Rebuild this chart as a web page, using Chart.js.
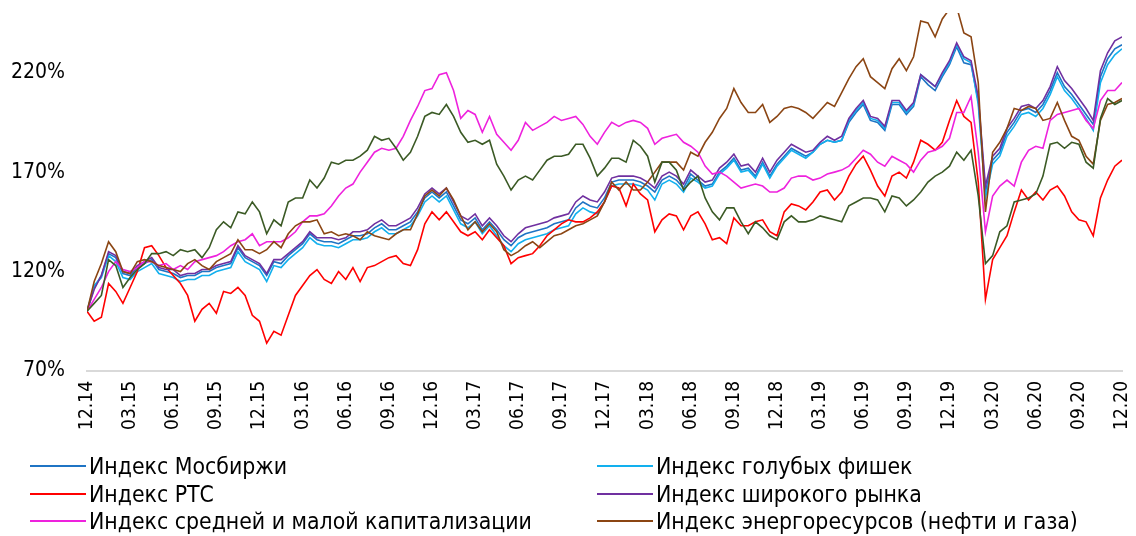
<!DOCTYPE html>
<html>
<head>
<meta charset="utf-8">
<script src="https://cdn.jsdelivr.net/npm/chart.js@4.4.1/dist/chart.umd.min.js"></script>
<style>
  html, body { margin: 0; padding: 0; background: #ffffff; }
  #wrap { position: relative; width: 1136px; height: 536px; overflow: hidden; }
  #c { position: absolute; left: 0; top: 0; }
  .leg { position: absolute; display: flex; align-items: center; white-space: nowrap;
         font-family: "DejaVu Sans Condensed", "DejaVu Sans", sans-serif; font-size: 22.8px; color: #000; line-height: 1; }
  .leg .ln { display: inline-block; width: 56px; height: 2px; margin-right: 3px; }
</style>
</head>
<body>
<div id="wrap">
  <canvas id="c" width="1136" height="536"></canvas>
  <div id="legend"></div>
</div>
<script>
// ---- tick labels ----
const xTickLabels = ['12.14','03.15','06.15','09.15','12.15','03.16','06.16','09.16','12.16',
  '03.17','06.17','09.17','12.17','03.18','06.18','09.18','12.18','03.19','06.19','09.19',
  '12.19','03.20','06.20','09.20','12.20'];
const yTickValues = [70, 120, 170, 220];
const monthsPerPoint = 0.5;   // data sampled every half month from 12.14
const monthsPerTick = 3;

// ---- series (% of level at 12.14) ----
const moex = [
  100,112,118,129,127,119,118,122,124,126,
  121,120,119,117,118,118,120,120,122,123,
  124,132,127,125,123,118,125,124,128,131,
  134,139,136,135,135,134,136,138,138,139,
  142,144,141,141,143,145,150,157,160,157,
  160,153,146,144,147,141,145,141,136,133,
  137,139,140,141,142,144,145,146,152,155,
  153,152,157,165,166,166,166,165,163,160,
  166,168,166,162,169,166,163,164,170,173,
  177,171,172,168,175,168,174,178,182,180,
  178,180,184,186,185,186,195,200,204,196,
  195,191,204,204,199,203,218,214,211,218,
  224,233,225,224,206,160,176,180,190,195,
  201,202,200,204,211,220,213,209,204,199,
  194,218,227,232,234];
const blueChips = [
  100,113,117,128,125,117,116,120,122,124,
  119,118,117,115,116,116,118,118,120,121,
  122,130,125,123,121,115,123,122,126,129,
  132,137,134,133,133,132,134,136,136,137,
  140,142,139,139,141,143,148,155,158,155,
  158,151,144,142,145,139,143,138,133,130,
  134,136,137,138,139,141,142,143,149,152,
  150,149,155,163,164,164,164,163,161,156,
  164,166,164,160,167,165,162,163,169,172,
  176,170,171,167,174,167,173,177,181,179,
  177,180,184,186,185,186,196,201,205,197,
  196,192,205,205,200,204,219,216,213,219,
  225,234,227,225,204,157,174,178,188,193,
  199,200,198,202,209,218,211,207,202,197,
  191,215,224,229,232];
const rts = [
  100,95,97,114,110,104,112,120,132,133,
  128,122,118,114,108,95,101,104,99,110,
  109,112,108,98,95,84,90,88,98,108,
  113,118,121,116,114,120,116,122,115,122,
  123,125,127,128,124,123,131,144,150,146,
  150,145,140,138,140,136,141,137,133,124,
  127,128,129,133,138,141,144,146,145,145,
  147,150,155,163,162,153,164,159,156,140,
  146,149,148,141,148,150,144,136,137,134,
  147,143,143,145,146,140,138,150,154,153,
  151,155,160,161,156,160,168,174,178,171,
  163,158,168,170,167,175,186,184,181,185,
  196,206,198,195,165,106,126,132,138,150,
  161,156,160,156,161,163,158,150,146,145,
  138,157,166,173,176];
const broadMarket = [
  100,111,118,130,128,120,119,123,125,127,
  122,121,121,118,119,119,121,121,123,124,
  125,133,128,126,124,119,126,126,129,132,
  135,140,137,137,137,136,137,140,140,141,
  144,146,143,143,145,147,152,159,162,159,
  162,155,148,146,149,143,147,143,138,135,
  139,142,143,144,145,147,148,149,155,158,
  156,155,160,167,168,168,168,167,165,162,
  168,170,168,164,171,168,165,166,172,175,
  179,173,174,170,177,170,176,180,184,182,
  180,181,185,188,186,188,197,202,206,198,
  197,193,206,206,201,205,219,216,213,220,
  226,235,228,226,208,163,178,182,192,197,
  203,204,202,206,213,223,216,212,207,202,
  196,221,230,236,238];
const smallMidCap = [
  100,106,112,120,125,121,120,122,125,125,
  123,124,121,123,121,125,126,127,128,130,
  133,135,136,139,133,135,135,135,137,140,
  145,148,148,149,153,158,162,164,170,175,
  180,182,181,182,188,196,203,211,212,219,
  220,211,197,201,199,190,198,189,185,181,
  186,195,191,193,195,198,196,197,198,194,
  188,184,190,195,193,195,196,195,192,184,
  187,188,189,185,183,180,173,169,170,168,
  165,162,163,164,163,160,160,162,167,168,
  168,166,167,169,170,171,173,177,181,179,
  175,173,178,176,174,170,176,180,181,183,
  187,200,200,208,180,140,158,163,166,163,
  175,181,183,182,196,199,200,201,202,196,
  192,206,211,211,215];
const oilGas = [
  100,115,124,135,130,120,119,125,126,125,
  123,122,121,120,124,126,123,121,125,127,
  129,136,131,131,129,131,135,132,139,143,
  145,145,146,139,140,138,139,138,136,140,
  138,137,136,139,141,141,149,158,161,158,
  162,156,148,141,145,140,144,140,131,128,
  130,133,135,132,135,138,139,141,143,144,
  146,148,155,165,161,165,161,161,165,170,
  175,175,175,171,180,178,185,190,197,202,
  212,205,200,200,204,195,198,202,203,202,
  200,197,201,205,203,210,217,223,227,218,
  215,212,222,227,221,228,246,245,238,247,
  252,253,240,238,215,150,180,185,192,202,
  201,203,202,196,197,205,196,188,186,178,
  174,196,204,205,207];
const seventhIndex = [
  100,104,108,126,123,112,117,121,124,129,
  129,130,128,131,130,131,127,132,141,145,
  142,150,149,155,150,139,146,143,155,157,
  157,166,162,167,175,174,176,176,178,181,
  188,186,187,182,176,180,188,198,200,199,
  204,198,190,185,186,184,186,174,168,161,
  166,168,166,171,176,178,178,179,184,184,
  177,168,172,177,177,175,186,183,178,165,
  175,175,171,161,165,168,157,150,146,152,
  152,145,139,145,142,138,136,145,148,145,
  145,146,148,147,146,145,153,155,157,157,
  156,150,158,157,153,156,160,165,168,170,
  173,180,176,181,158,124,128,140,143,155,
  156,157,159,168,184,185,182,185,184,175,
  172,197,207,204,206];

const seriesNames = ['Индекс Мосбиржи','Индекс голубых фишек','Индекс РТС','Индекс широкого рынка',
  'Индекс средней и малой капитализации','Индекс энергоресурсов (нефти и газа)',''];
const seriesData = [moex, blueChips, rts, broadMarket, smallMidCap, oilGas, seventhIndex];
const seriesColors = ['#1f74c4','#12b0ee','#ff0000','#7030a0','#ee22dd','#8b4513','#3b5a25'];
const legendSlots = [[30,466],[597,466],[30,494],[597,494],[30,521],[597,521]];

const FONT = '"DejaVu Sans Condensed", "DejaVu Sans", sans-serif';

const datasets = seriesData.map((arr, i) => ({
  label: seriesNames[i],
  data: arr.map((v, j) => ({ x: j * monthsPerPoint, y: v })),
  borderColor: seriesColors[i],
  backgroundColor: seriesColors[i],
  borderWidth: 1.6,
  pointRadius: 0,
  tension: 0,
  fill: false,
  order: 20 - i
}));

function noPad(s) { s.paddingTop = 0; s.paddingBottom = 0; s.paddingLeft = 0; s.paddingRight = 0; }

new Chart(document.getElementById('c'), {
  type: 'line',
  data: { datasets },
  options: {
    responsive: false,
    animation: false,
    layout: { padding: { left: 0, right: 14, top: 13, bottom: 86 } },
    plugins: { legend: { display: false }, tooltip: { enabled: false } },
    scales: {
      x: {
        type: 'linear',
        min: 0,
        max: (xTickLabels.length - 1) * monthsPerTick,
        grid: { display: false, drawTicks: false },
        border: { display: true, color: '#d9d9d9', width: 2 },
        ticks: {
          autoSkip: false, maxRotation: 90, minRotation: 90, padding: 10,
          color: '#000', font: { family: FONT, size: 19 },
          callback: (v, idx) => xTickLabels[idx]
        },
        afterBuildTicks: s => { s.ticks = xTickLabels.map((_, i) => ({ value: i * monthsPerTick })); },
        afterFit: s => { s.height = 79; noPad(s); }
      },
      y: {
        min: 70, max: 250,
        grid: { display: false, drawTicks: false },
        border: { display: false },
        ticks: {
          padding: 22, color: '#000', font: { family: FONT, size: 21 },
          callback: v => v + '%'
        },
        afterBuildTicks: s => { s.ticks = yTickValues.map(v => ({ value: v })); },
        afterFit: s => { s.width = 87; noPad(s); }
      }
    }
  }
});

// HTML legend (two columns, three rows)
const leg = document.getElementById('legend');
legendSlots.forEach((pos, i) => {
  const d = document.createElement('div');
  d.className = 'leg';
  d.style.left = pos[0] + 'px';
  d.style.top = (pos[1] - 12) + 'px';
  d.style.height = '24px';
  const ln = document.createElement('span');
  ln.className = 'ln';
  ln.style.backgroundColor = seriesColors[i];
  const tx = document.createElement('span');
  tx.textContent = seriesNames[i];
  d.appendChild(ln); d.appendChild(tx);
  leg.appendChild(d);
});
</script>
</body>
</html>
